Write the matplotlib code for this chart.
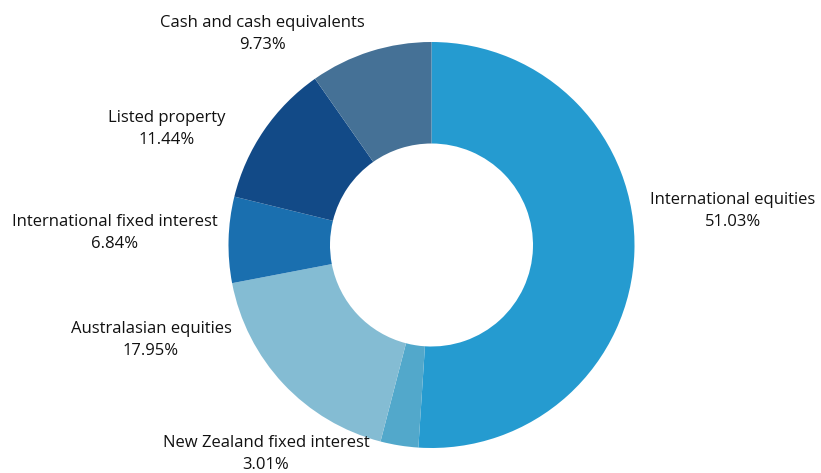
import matplotlib.pyplot as plt

labels = [
    "International equities",
    "New Zealand fixed interest",
    "Australasian equities",
    "International fixed interest",
    "Listed property",
    "Cash and cash equivalents",
]
shares = [51.03, 3.01, 17.95, 6.84, 11.44, 9.73]
colors = ["#259BD0", "#52A8CB", "#84BCD3", "#1A6FAF", "#124A87", "#457196"]

# label anchor points, in pixels from top-left of the 821x473 figure
label_pos = [(733, 211), (266, 454), (151, 340), (115, 233), (167, 129), (262, 34)]

W, H = 821, 473
fig = plt.figure(figsize=(W / 100, H / 100), dpi=100)

cx, cy, r = 431.5, 245, 203
ax = fig.add_axes([(cx - r) / W, (H - cy - r) / H, 2 * r / W, 2 * r / H])
ax.pie(
    shares,
    colors=colors,
    startangle=90,
    counterclock=False,
    radius=1,
    wedgeprops=dict(width=0.5, linewidth=0),
)
ax.set_xlim(-1, 1)
ax.set_ylim(-1, 1)
ax.set_aspect("auto")
ax.axis("off")

for name, val, (px, py) in zip(labels, shares, label_pos):
    fig.text(
        px / W,
        1 - py / H,
        f"{name}\n{val:.2f}%",
        ha="center",
        va="center",
        fontsize=12,
        family="Open Sans",
        color="#111111",
        linespacing=1.45,
    )

fig.savefig("out.png", dpi=100)
